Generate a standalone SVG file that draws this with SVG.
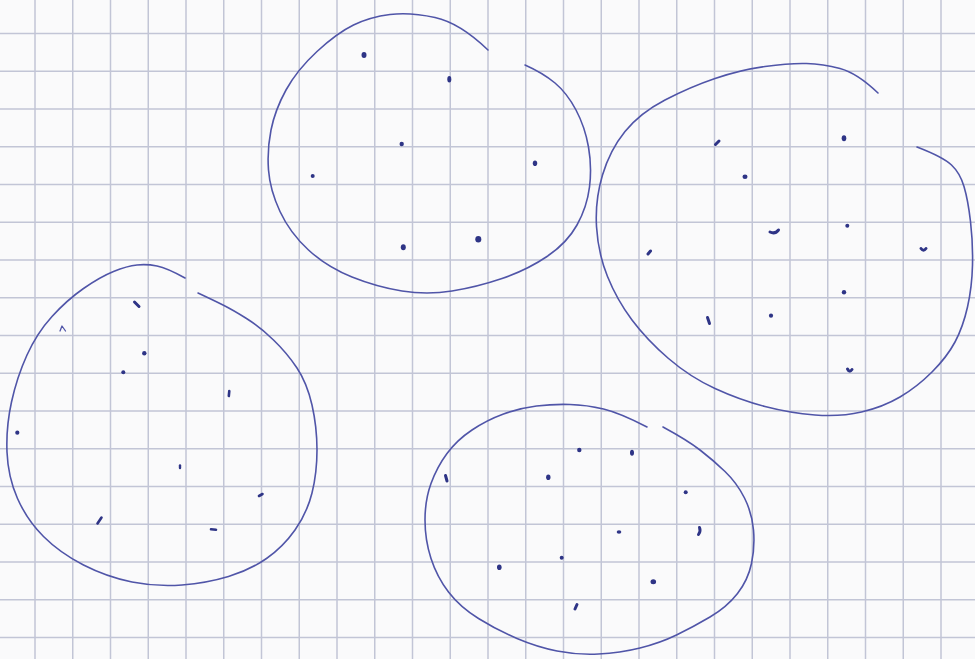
<svg xmlns="http://www.w3.org/2000/svg" width="975" height="659" viewBox="0 0 975 659">
<style>
.grid{stroke:#c2c5d6;stroke-width:1.5;fill:none}
.ink{stroke:#5055a8;stroke-width:1.6;fill:none;stroke-linecap:round;stroke-linejoin:round}
.dot{fill:#2e3486}
.dash{stroke:#2e3486;stroke-width:3;stroke-linecap:round;fill:none}
</style>
<rect width="975" height="659" fill="#fafafb"/>
<path class="grid" d="M35,0V659M72.75,0V659M110.5,0V659M148.25,0V659M186,0V659M223.75,0V659M261.5,0V659M299.25,0V659M337,0V659M374.75,0V659M412.5,0V659M450.25,0V659M488,0V659M525.75,0V659M563.5,0V659M601.25,0V659M639,0V659M676.75,0V659M714.5,0V659M752.25,0V659M790,0V659M827.75,0V659M865.5,0V659M903.25,0V659M941,0V659M0,33.5H975M0,71.25H975M0,109H975M0,146.75H975M0,184.5H975M0,222.25H975M0,260H975M0,297.75H975M0,335.5H975M0,373.25H975M0,411H975M0,448.75H975M0,486.5H975M0,524.25H975M0,562H975M0,599.75H975M0,637.5H975"/>
<g id="cluster-top">
<path class="ink" d="M488,50 Q460,23 435,17.5 Q410,12 390,14.5 Q370,17 353.5,25 Q337,33 317,51.5 Q297,70 286,90 Q275,110 271,130 Q267,150 268.5,170 Q270,190 280,211.5 Q290,233 308.5,250 Q327,267 352,277 Q377,287 402,291 Q427,295 452,291 Q477,287 502,278.5 Q527,270 547,256.5 Q567,243 577,225 Q587,207 589.5,187 Q592,167 588.5,147 Q585,127 576,110 Q567,93 555,83 Q543,73 525,65"/>
<ellipse class="dot" cx="364" cy="55" rx="2.5" ry="3"/>
<ellipse class="dot" cx="449.3" cy="79.3" rx="2" ry="3.2"/>
<circle class="dot" cx="401.7" cy="144" r="2.2"/>
<circle class="dot" cx="312.7" cy="176" r="2"/>
<ellipse class="dot" cx="535" cy="163.3" rx="2.2" ry="2.8"/>
<ellipse class="dot" cx="403.3" cy="247.3" rx="2.5" ry="3"/>
<ellipse class="dot" cx="478.3" cy="239.3" rx="3" ry="3.3"/>
</g>
<g id="cluster-right">
<path class="ink" d="M878,93 Q857,73 840,68.5 Q823,64 806.5,63.5 Q790,63 765,66.5 Q740,70 715,78.5 Q690,87 665,100 Q640,113 625,131.5 Q610,150 602.5,175 Q595,200 596.5,226.5 Q598,253 607.5,276.5 Q617,300 632,320 Q647,340 668.5,358.5 Q690,377 715,388.5 Q740,400 765,406.5 Q790,413 815,415 Q840,417 861.5,412 Q883,407 900,397 Q917,387 932,372 Q947,357 955,342 Q963,327 967.5,307 Q972,287 972.5,265 Q973,243 970.5,221.5 Q968,200 964,186.5 Q960,173 951.5,165 Q943,157 917,147"/>
<path class="dash" d="M715.5,144.5 L719,141"/>
<ellipse class="dot" cx="844" cy="138.3" rx="2.3" ry="3"/>
<ellipse class="dot" cx="745" cy="176.7" rx="2.5" ry="2.3"/>
<path class="dash" d="M770,232 Q775,234.5 778.5,230"/>
<circle class="dot" cx="847.3" cy="225.7" r="2"/>
<path class="dash" d="M648,254 L650.5,251"/>
<path class="dash" d="M921,248.5 Q923.5,252 926,248.5"/>
<circle class="dot" cx="844" cy="292.3" r="2.2"/>
<circle class="dot" cx="771" cy="315.7" r="2.1"/>
<path class="dash" d="M707.5,317.5 L709.5,323.5"/>
<path class="dash" d="M847.5,369 Q849.5,373 852,369.5"/>
</g>
<g id="cluster-left">
<path class="ink" d="M185,278 Q167,268 157,266 Q147,264 137,265 Q127,266 113.5,271.5 Q100,277 83.5,288.5 Q67,300 52,316.5 Q37,333 27,355 Q17,377 11.5,402 Q6,427 7,452 Q8,477 17.5,498.5 Q27,520 43.5,536.5 Q60,553 83.5,565 Q107,577 132,582 Q157,587 182,585 Q207,583 228.5,576.5 Q250,570 266.5,558.5 Q283,547 295,530 Q307,513 312,493 Q317,473 317,450 Q317,427 312,405 Q307,383 297,368 Q287,353 273.5,340 Q260,327 246.5,318.5 Q233,310 223,305 Q213,300 198,293"/>
<path class="dash" d="M134.5,302 L139,306.5"/>
<path class="ink" d="M60,331 L62,326 L65.5,331" style="stroke-width:1.3"/>
<circle class="dot" cx="144.3" cy="353.3" r="2.2"/>
<circle class="dot" cx="123.3" cy="372.3" r="2"/>
<path class="dash" d="M229.3,391 L228.8,396" style="stroke-width:2.6"/>
<circle class="dot" cx="17.3" cy="432.7" r="2.1"/>
<path class="dash" d="M180,465.5 L180,468" style="stroke-width:2.4"/>
<path class="dash" d="M259,496 L262.5,494" style="stroke-width:2.6"/>
<path class="dash" d="M97.5,523.5 L101.5,517.5" style="stroke-width:2.6"/>
<path class="dash" d="M211,529.3 L216,529.7" style="stroke-width:2.6"/>
</g>
<g id="cluster-bottom">
<path class="ink" d="M647,427 Q620,413 603.5,409 Q587,405 570,404.5 Q553,404 536.5,406 Q520,408 503.5,414 Q487,420 472,430 Q457,440 447,453.5 Q437,467 431,483.5 Q425,500 425,520 Q425,540 431,558.5 Q437,577 448.5,592 Q460,607 478.5,618.5 Q497,630 517,638.5 Q537,647 557,651 Q577,655 598.5,654 Q620,653 640,648 Q660,643 676.5,635 Q693,627 710,617 Q727,607 737.5,593.5 Q748,580 751.5,563.5 Q755,547 753.5,530 Q752,513 744.5,498 Q737,483 725,471.5 Q713,460 700,450 Q687,440 663,427"/>
<circle class="dot" cx="579.3" cy="450" r="2.2"/>
<ellipse class="dot" cx="632" cy="452.7" rx="2" ry="3"/>
<path class="dash" d="M445.5,475.5 L447,481"/>
<ellipse class="dot" cx="548.3" cy="477.3" rx="2.2" ry="2.8"/>
<circle class="dot" cx="685.7" cy="492.3" r="2"/>
<ellipse class="dot" cx="619" cy="532" rx="2.3" ry="1.8"/>
<path class="dash" d="M699.5,527.5 Q701,531 698.5,534.5"/>
<circle class="dot" cx="561.7" cy="557.7" r="2"/>
<ellipse class="dot" cx="499.3" cy="567.3" rx="2.3" ry="2.8"/>
<ellipse class="dot" cx="653.3" cy="581.7" rx="2.8" ry="2.5"/>
<path class="dash" d="M575,609 L577,604.5"/>
</g>
</svg>
